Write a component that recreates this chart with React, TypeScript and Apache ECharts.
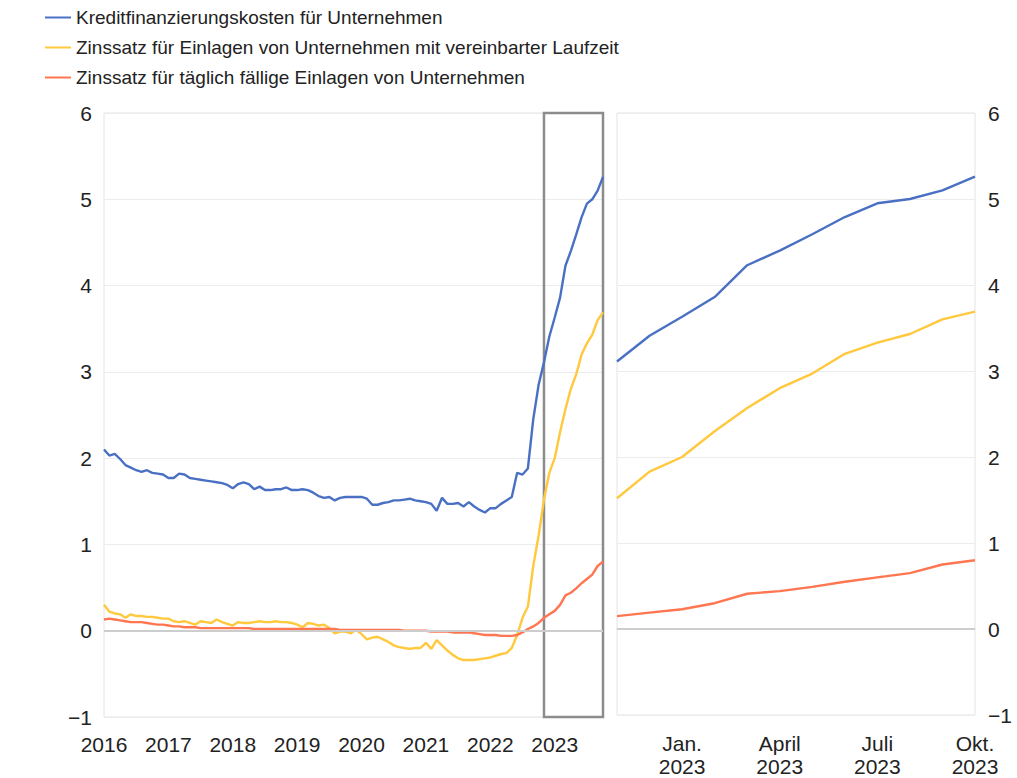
import React, { useEffect, useRef } from "react";
import * as echarts from "echarts";

// ---- categories ----
const startYear = 2016;
const monthCount = 94; // Jan 2016 .. Oct 2023
const months: string[] = [];
for (let i = 0; i < monthCount; i++) {
  const y = startYear + Math.floor(i / 12);
  const m = (i % 12) + 1;
  months.push(`${y}-${String(m).padStart(2, "0")}`);
}
const zoomStartMonth = "2022-11";
const zoomEndMonth = "2023-10";
const zoomTickLabels: Record<string, string> = {
  "2023-01": "Jan.\n2023",
  "2023-04": "April\n2023",
  "2023-07": "Juli\n2023",
  "2023-10": "Okt.\n2023",
};

// ---- series names ----
const nameCredit = "Kreditfinanzierungskosten für Unternehmen";
const nameTerm = "Zinssatz für Einlagen von Unternehmen mit vereinbarter Laufzeit";
const nameOvernight = "Zinssatz für täglich fällige Einlagen von Unternehmen";

// ---- series values (monthly, Jan 2016 .. Oct 2023) ----
const creditCost = [
  2.10, 2.03, 2.05, 1.99, 1.92, 1.89, 1.86, 1.84, 1.86, 1.83, 1.82, 1.81,
  1.77, 1.77, 1.82, 1.81, 1.77, 1.76, 1.75, 1.74, 1.73, 1.72, 1.71, 1.69,
  1.65, 1.70, 1.72, 1.70, 1.64, 1.67, 1.63, 1.63, 1.64, 1.64, 1.66, 1.63,
  1.63, 1.64, 1.63, 1.60, 1.56, 1.54, 1.55, 1.51, 1.54, 1.55, 1.55, 1.55,
  1.55, 1.53, 1.46, 1.46, 1.48, 1.49, 1.51, 1.51, 1.52, 1.53, 1.51, 1.50,
  1.49, 1.47, 1.39, 1.54, 1.47, 1.47, 1.48, 1.44, 1.49, 1.44, 1.40, 1.37,
  1.42, 1.42, 1.47, 1.51, 1.55, 1.83, 1.81, 1.88, 2.45, 2.85,
  3.11, 3.41, 3.63, 3.86, 4.23, 4.40, 4.59, 4.79, 4.95, 5.00, 5.10, 5.26,
];
const termDeposit = [
  0.30, 0.22, 0.20, 0.19, 0.15, 0.19, 0.17, 0.17, 0.16, 0.16, 0.15, 0.14,
  0.14, 0.11, 0.10, 0.11, 0.09, 0.07, 0.11, 0.10, 0.09, 0.13, 0.10, 0.08,
  0.06, 0.10, 0.09, 0.09, 0.10, 0.11, 0.10, 0.10, 0.11, 0.10, 0.10, 0.09,
  0.07, 0.04, 0.09, 0.08, 0.06, 0.07, 0.03, -0.03, -0.01, -0.01, -0.03, 0.01,
  -0.04, -0.10, -0.08, -0.07, -0.10, -0.13, -0.17, -0.19, -0.20, -0.21, -0.20, -0.20,
  -0.14, -0.21, -0.11, -0.17, -0.23, -0.28, -0.32, -0.34, -0.34, -0.34, -0.33, -0.32,
  -0.31, -0.29, -0.27, -0.26, -0.20, -0.05, 0.15, 0.28, 0.75, 1.10,
  1.52, 1.83, 2.00, 2.30, 2.57, 2.80, 2.97, 3.20, 3.33, 3.43, 3.60, 3.69,
];
const overnightDeposit = [
  0.13, 0.14, 0.13, 0.12, 0.11, 0.10, 0.10, 0.10, 0.09, 0.08, 0.07, 0.07,
  0.06, 0.05, 0.05, 0.04, 0.04, 0.04, 0.03, 0.03, 0.03, 0.03, 0.03, 0.03,
  0.03, 0.03, 0.03, 0.03, 0.02, 0.02, 0.02, 0.02, 0.02, 0.02, 0.02, 0.02,
  0.02, 0.02, 0.02, 0.02, 0.02, 0.02, 0.02, 0.02, 0.01, 0.01, 0.01, 0.01,
  0.01, 0.01, 0.01, 0.01, 0.01, 0.01, 0.01, 0.01, 0.00, 0.00, 0.00, 0.00,
  0.00, -0.01, -0.01, -0.01, -0.01, -0.02, -0.02, -0.02, -0.02, -0.03, -0.04, -0.05,
  -0.05, -0.05, -0.06, -0.06, -0.06, -0.05, -0.02, 0.02, 0.05, 0.09,
  0.15, 0.19, 0.23, 0.30, 0.41, 0.44, 0.49, 0.55, 0.60, 0.65, 0.75, 0.80,
];

// ---- y ticks ----
const yMin = -1;
const yMax = 6;
const yStep = 1;

const BLUE = "#4a70c4";
const YELLOW = "#ffc83d";
const ORANGE = "#ff7650";
const FONT = "'Liberation Sans', Arial, sans-serif";

export default function App() {
  const ref = useRef<HTMLDivElement>(null);

  useEffect(() => {
    if (!ref.current) return;
    const chart = echarts.init(ref.current, null, { renderer: "svg" });

    const zi = months.indexOf(zoomStartMonth);
    const zoomMonths = months.slice(zi);

    const fmtY = (v: number) => (v < 0 ? "\u2212" + Math.abs(v) : String(v));

    const yAxisBase = {
      type: "value" as const,
      min: yMin,
      max: yMax,
      interval: yStep,
      axisLine: { show: false },
      axisTick: { show: false },
      splitLine: { show: true, lineStyle: { color: "#ececec", width: 1 } },
      axisLabel: { fontSize: 21, color: "#222", fontFamily: FONT, formatter: fmtY },
    };

    const zeroLine = {
      silent: true,
      symbol: ["none", "none"],
      label: { show: false },
      lineStyle: { color: "#cdcdcd", width: 2, type: "solid" },
      data: [{ yAxis: 0 }],
    };

    const lineSeries = (name: string, color: string, data: number[], idx: number, extra: any = {}) => ({
      name,
      type: "line",
      xAxisIndex: idx,
      yAxisIndex: idx,
      data,
      showSymbol: false,
      symbol: "none",
      color,
      lineStyle: { color, width: 2.4 },
      ...extra,
    });

    chart.setOption({
      animation: false,
      textStyle: { fontFamily: FONT },
      legend: {
        orient: "vertical",
        left: 40,
        top: 3,
        icon: "rect",
        itemWidth: 26,
        itemHeight: 2,
        itemGap: 11,
        data: [nameCredit, nameTerm, nameOvernight],
        textStyle: { fontSize: 19, color: "#222", fontFamily: FONT, lineHeight: 19 },
      },
      grid: [
        { left: 104, top: 113, width: 499, height: 604, show: true, borderColor: "#e4e4e4", borderWidth: 1 },
        { left: 617, top: 113, width: 358, height: 604, show: true, borderColor: "#e4e4e4", borderWidth: 1 },
      ],
      xAxis: [
        {
          type: "category",
          gridIndex: 0,
          data: months,
          boundaryGap: false,
          axisLine: { show: false },
          axisTick: { show: false },
          splitLine: { show: false },
          axisLabel: {
            interval: (idx: number) => idx % 12 === 0,
            formatter: (v: string) => v.slice(0, 4),
            fontSize: 21,
            color: "#222",
            margin: 17,
            fontFamily: FONT,
          },
        },
        {
          type: "category",
          gridIndex: 1,
          data: zoomMonths,
          boundaryGap: false,
          axisLine: { show: false },
          axisTick: { show: false },
          splitLine: { show: false },
          axisLabel: {
            interval: (_idx: number, v: string) => v in zoomTickLabels,
            formatter: (v: string) => zoomTickLabels[v] || "",
            fontSize: 21,
            lineHeight: 23,
            color: "#222",
            margin: 17,
            fontFamily: FONT,
          },
        },
      ],
      yAxis: [
        { ...yAxisBase, gridIndex: 0, position: "left", axisLabel: { ...yAxisBase.axisLabel, margin: 12 } },
        { ...yAxisBase, gridIndex: 1, position: "right", axisLabel: { ...yAxisBase.axisLabel, margin: 13 } },
      ],
      series: [
        lineSeries(nameCredit, BLUE, creditCost, 0, {
          markLine: zeroLine,
          markArea: {
            silent: true,
            itemStyle: { color: "rgba(0,0,0,0)", borderColor: "#8c8c8c", borderWidth: 2.5 },
            data: [[{ xAxis: zoomStartMonth, yAxis: yMax }, { xAxis: zoomEndMonth, yAxis: yMin }]],
          },
        }),
        lineSeries(nameTerm, YELLOW, termDeposit, 0),
        lineSeries(nameOvernight, ORANGE, overnightDeposit, 0),
        lineSeries(nameCredit, BLUE, creditCost.slice(zi), 1, { markLine: zeroLine }),
        lineSeries(nameTerm, YELLOW, termDeposit.slice(zi), 1),
        lineSeries(nameOvernight, ORANGE, overnightDeposit.slice(zi), 1),
      ],
    });

    return () => chart.dispose();
  }, []);

  return (
    <div
      ref={ref}
      style={{ position: "fixed", left: 0, top: 0, width: 1017, height: 778, background: "#fff" }}
    />
  );
}
